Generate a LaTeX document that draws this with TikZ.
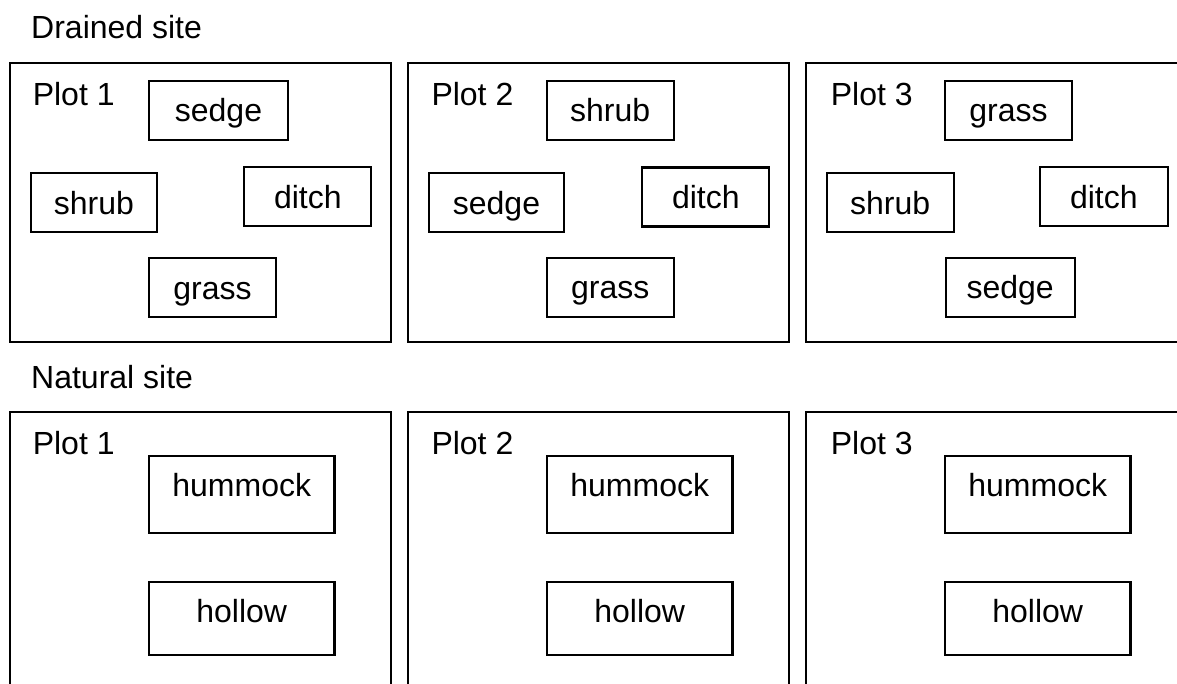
\documentclass[tikz,border=0pt]{standalone}
\usepackage{fontspec}
\setmainfont{Liberation Sans}
\begin{document}
\begin{tikzpicture}[x=1pt,y=-1pt,
  every node/.style={font=\fontsize{32}{38}\selectfont},
  frame/.style={draw, line width=2.2pt},
  title/.style={anchor=base west, inner sep=0pt},
  patch/.style={draw, line width=2.2pt, rectangle, inner sep=0pt, outer sep=0pt,
    anchor=north west, text height=41pt, text depth=18pt, minimum height=59pt},
  tallpatch/.style={patch, text height=41pt, text depth=36.5pt, minimum height=77.5pt},
  lowpatch/.style={patch, text height=40.3pt, text depth=33.2pt, minimum height=73.5pt}]
\clip (0,0) rectangle (1177,684);

% ---- drained site ----
\node[title] (drained) at (31,38.3) {Drained site};
\draw[frame] (10,63.3) rectangle (390.7,342);
\draw[frame] (408.3,63.3) rectangle (789,342);
\draw[frame] (806,63.3) rectangle (1200,342);

\node[title] (dp1) at (32.6,106) {Plot 1};
\node[patch, minimum width=139pt] (d1sedge) at (149,81) {sedge\hspace{12pt}};
\node[patch, minimum width=126.5pt] (d1shrub) at (30.7,173.3) {shrub};
\node[patch, minimum width=127pt] (d1ditch) at (244.3,167.3) {ditch};
\node[patch, minimum width=127pt] (d1grass) at (149,258.3) {grass};

\node[title] (dp2) at (431.3,106) {Plot 2};
\node[patch, minimum width=127pt] (d2shrub) at (546.7,81) {shrub};
\node[patch, minimum width=135pt] (d2sedge) at (429,173.3) {sedge\hspace{7pt}};
\node[patch, minimum width=127pt] (d2ditch) at (642.3,167.5) {ditch};
\node[patch, minimum width=127pt] (d2grass) at (546.7,257.8) {grass};

\node[title] (dp3) at (830.6,106) {Plot 3};
\node[patch, minimum width=127pt] (d3grass) at (945,81) {grass};
\node[patch, minimum width=127pt] (d3shrub) at (826.7,173.3) {shrub};
\node[patch, minimum width=127.7pt] (d3ditch) at (1040,167.3) {ditch};
\node[patch, minimum width=129pt] (d3sedge) at (945.7,258) {sedge};

% ---- natural site ----
\node[title] (natural) at (31,388) {Natural site};
\draw[frame] (10,411.7) rectangle (390.7,700);
\draw[frame] (408.3,411.7) rectangle (789,700);
\draw[frame] (806,411.7) rectangle (1200,700);

\node[title] (np1) at (32.6,454) {Plot 1};
\node[tallpatch, minimum width=185.5pt] (n1hum) at (149,455.7) {hummock};
\node[lowpatch, minimum width=185.5pt] (n1hol) at (149,581.7) {hollow};

\node[title] (np2) at (431.3,454) {Plot 2};
\node[tallpatch, minimum width=185.5pt] (n2hum) at (547,455.7) {hummock};
\node[lowpatch, minimum width=185.5pt] (n2hol) at (547,581.7) {hollow};

\node[title] (np3) at (830.6,454) {Plot 3};
\node[tallpatch, minimum width=185.5pt] (n3hum) at (945,455.7) {hummock};
\node[lowpatch, minimum width=185.5pt] (n3hol) at (945,581.7) {hollow};
\end{tikzpicture}
\end{document}
